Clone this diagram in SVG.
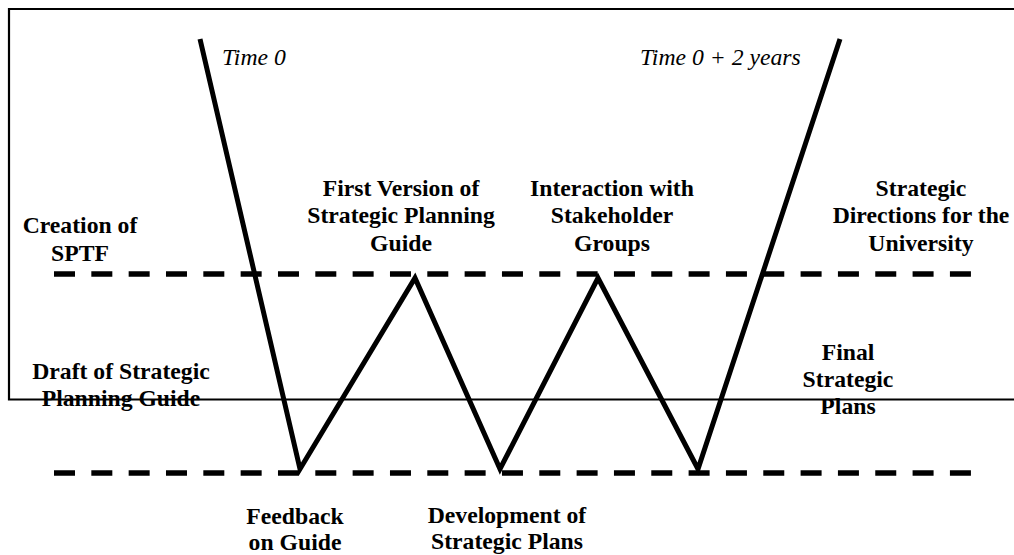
<svg xmlns="http://www.w3.org/2000/svg" width="1014" height="555" viewBox="0 0 1014 555">
<style>
  .lbl { font-family: "Liberation Serif", "Times New Roman", serif; font-weight: bold; font-size: 23.7px; fill: #000; text-anchor: middle; }
  .time { font-family: "Liberation Serif", "Times New Roman", serif; font-style: italic; font-size: 23.7px; fill: #000; }
  .dash { stroke: #000; stroke-width: 5.5; stroke-dasharray: 21 16.33; fill: none; }
  .zig { stroke: #000; stroke-width: 5; fill: none; stroke-linejoin: miter; stroke-miterlimit: 10; }
  .frame { stroke: #000; stroke-width: 2.2; fill: none; }
</style>
<rect width="1014" height="555" fill="#fff"/>
<g id="frame">
  <path class="frame" d="M1016 9 H9 V399.5 H1016"/>
</g>
<g id="connectors">
  <line class="dash" x1="54" y1="274" x2="975" y2="274"/>
  <line class="dash" x1="54" y1="473" x2="975" y2="473"/>
  <polyline class="zig" points="200,39 300,469 415,278 500,469 598,278 698,469 840,39"/>
</g>
<g id="time0"><text class="time" x="222" y="65">Time 0</text></g>
<g id="time2"><text class="time" x="640" y="65">Time 0 + 2 years</text></g>
<g id="creation">
  <text class="lbl" x="80" y="233">Creation of</text>
  <text class="lbl" x="80" y="261">SPTF</text>
</g>
<g id="draft">
  <text class="lbl" x="121" y="379">Draft of Strategic</text>
  <text class="lbl" x="121" y="406">Planning Guide</text>
</g>
<g id="first-version">
  <text class="lbl" x="401" y="196">First Version of</text>
  <text class="lbl" x="401" y="223">Strategic Planning</text>
  <text class="lbl" x="401" y="251">Guide</text>
</g>
<g id="interaction">
  <text class="lbl" x="612" y="196">Interaction with</text>
  <text class="lbl" x="612" y="223">Stakeholder</text>
  <text class="lbl" x="612" y="251">Groups</text>
</g>
<g id="directions">
  <text class="lbl" x="921" y="196">Strategic</text>
  <text class="lbl" x="921" y="223">Directions for the</text>
  <text class="lbl" x="921" y="251">University</text>
</g>
<g id="final">
  <text class="lbl" x="848" y="360">Final</text>
  <text class="lbl" x="848" y="387">Strategic</text>
  <text class="lbl" x="848" y="414">Plans</text>
</g>
<g id="feedback">
  <text class="lbl" x="295" y="524">Feedback</text>
  <text class="lbl" x="295" y="550">on Guide</text>
</g>
<g id="development">
  <text class="lbl" x="507" y="523">Development of</text>
  <text class="lbl" x="507" y="549">Strategic Plans</text>
</g>
</svg>
